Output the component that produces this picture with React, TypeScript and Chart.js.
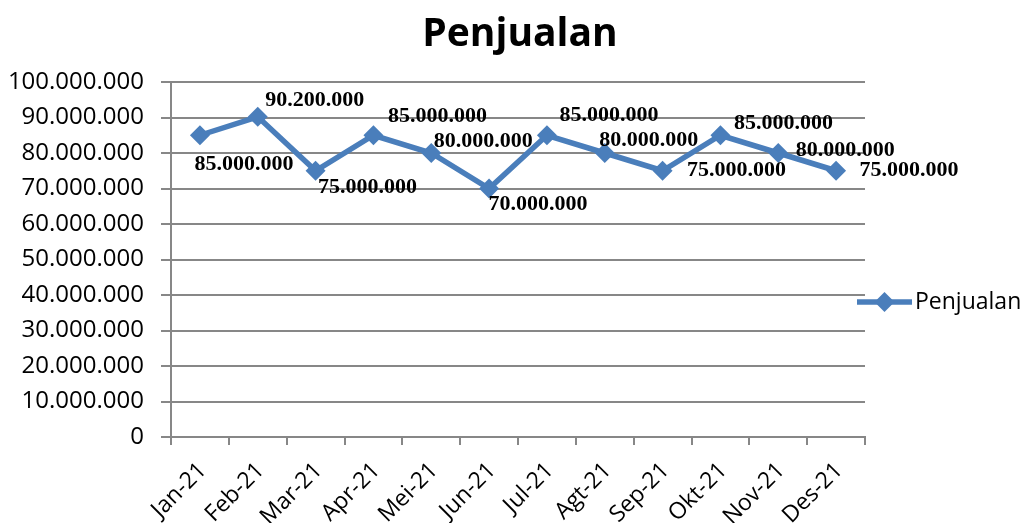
import React, { useEffect, useRef } from 'react';
import { Chart, registerables } from 'chart.js';

Chart.register(...registerables);

const chartTitle = 'Penjualan';
const seriesName = 'Penjualan';
const categories = ['Jan-21', 'Feb-21', 'Mar-21', 'Apr-21', 'Mei-21', 'Jun-21', 'Jul-21', 'Agt-21', 'Sep-21', 'Okt-21', 'Nov-21', 'Des-21'];
const penjualan = [85000000, 90200000, 75000000, 85000000, 80000000, 70000000, 85000000, 80000000, 75000000, 85000000, 80000000, 75000000];
const yMin = 0;
const yMax = 100000000;
const yStep = 10000000;

const LINE_COLOR = '#4A7EBB';
const GRID_COLOR = '#878787';

// label offsets (style): from point center to label center
const labelOffsets: [number, number][] = [
  [44, 29], [57, -16], [52, 17], [64, -19], [52, -12], [49, 16],
  [62, -20], [44, -13], [74, 0], [63, -12], [67, -3], [73, 0],
];

function fmt(v: number): string {
  return Math.round(v).toString().replace(/\B(?=(\d{3})+(?!\d))/g, '.');
}

const decorPlugin = {
  id: 'decor',
  afterDatasetsDraw(chart: any) {
    const ctx = chart.ctx;
    const meta = chart.getDatasetMeta(0);
    ctx.save();
    ctx.fillStyle = '#000';
    ctx.font = 'bold 22px "Liberation Serif", "Times New Roman", serif';
    ctx.textAlign = 'center';
    ctx.textBaseline = 'middle';
    meta.data.forEach((pt: any, i: number) => {
      const [dx, dy] = labelOffsets[i];
      ctx.fillText(fmt(penjualan[i]), pt.x + dx, pt.y + dy);
    });
    ctx.restore();
  },
  afterDraw(chart: any) {
    const ctx = chart.ctx;
    const area = chart.chartArea;
    ctx.save();
    // title
    ctx.fillStyle = '#000';
    ctx.font = 'bold 39px "Open Sans", sans-serif';
    ctx.textAlign = 'center';
    ctx.textBaseline = 'alphabetic';
    ctx.fillText(chartTitle, (area.left + area.right) / 2 + 2, 46);
    // legend
    const ly = 302;
    ctx.strokeStyle = LINE_COLOR;
    ctx.lineWidth = 5.5;
    ctx.beginPath();
    ctx.moveTo(857, ly);
    ctx.lineTo(912, ly);
    ctx.stroke();
    ctx.fillStyle = LINE_COLOR;
    ctx.beginPath();
    const cx = 884.5, r = 10;
    ctx.moveTo(cx, ly - r);
    ctx.lineTo(cx + r, ly);
    ctx.lineTo(cx, ly + r);
    ctx.lineTo(cx - r, ly);
    ctx.closePath();
    ctx.fill();
    ctx.fillStyle = '#000';
    ctx.font = '23px "Open Sans", sans-serif';
    ctx.textAlign = 'left';
    ctx.textBaseline = 'middle';
    ctx.fillText(seriesName, 915, ly);
    ctx.restore();
  },
};

export default function App() {
  const ref = useRef<HTMLCanvasElement | null>(null);
  useEffect(() => {
    if (!ref.current) return;
    const chart = new Chart(ref.current, {
      type: 'line',
      data: {
        labels: categories,
        datasets: [
          {
            label: seriesName,
            data: penjualan,
            borderColor: LINE_COLOR,
            backgroundColor: LINE_COLOR,
            borderWidth: 5.5,
            pointStyle: 'rectRot',
            pointRadius: 10,
            pointBorderWidth: 0,
            pointBackgroundColor: LINE_COLOR,
            tension: 0,
          },
        ],
      },
      options: {
        responsive: false,
        animation: false,
        layout: { padding: { top: 82, right: 163, left: 0, bottom: 0 } },
        plugins: {
          legend: { display: false },
          title: { display: false },
          tooltip: { enabled: false },
        },
        scales: {
          x: {
            offset: true,
            grid: { offset: true, drawOnChartArea: false, drawTicks: true, tickLength: 8, color: GRID_COLOR, lineWidth: 2 },
            border: { color: GRID_COLOR, width: 2 },
            ticks: {
              color: '#000',
              font: { family: '"Open Sans", sans-serif', size: 23 },
              minRotation: 45,
              maxRotation: 45,
              padding: 12,
              labelOffset: 3,
              autoSkip: false,
            },
            afterFit: (s: any) => { s.height = 86; },
          },
          y: {
            min: yMin,
            max: yMax,
            grid: { color: GRID_COLOR, lineWidth: 2, tickLength: 10 },
            border: { color: GRID_COLOR, width: 2 },
            ticks: {
              stepSize: yStep,
              color: '#000',
              font: { family: '"Open Sans", sans-serif', size: 24 },
              padding: 17,
              callback: (v: any) => fmt(Number(v)),
            },
            afterFit: (s: any) => { s.width = 171; },
          },
        },
      },
      plugins: [decorPlugin],
    } as any);
    return () => chart.destroy();
  }, []);
  return (
    <div style={{ position: 'fixed', left: 0, top: 0, width: 1028, height: 523, background: '#fff' }}>
      <canvas ref={ref} width={1028} height={523} style={{ width: 1028, height: 523, display: 'block' }} />
    </div>
  );
}
